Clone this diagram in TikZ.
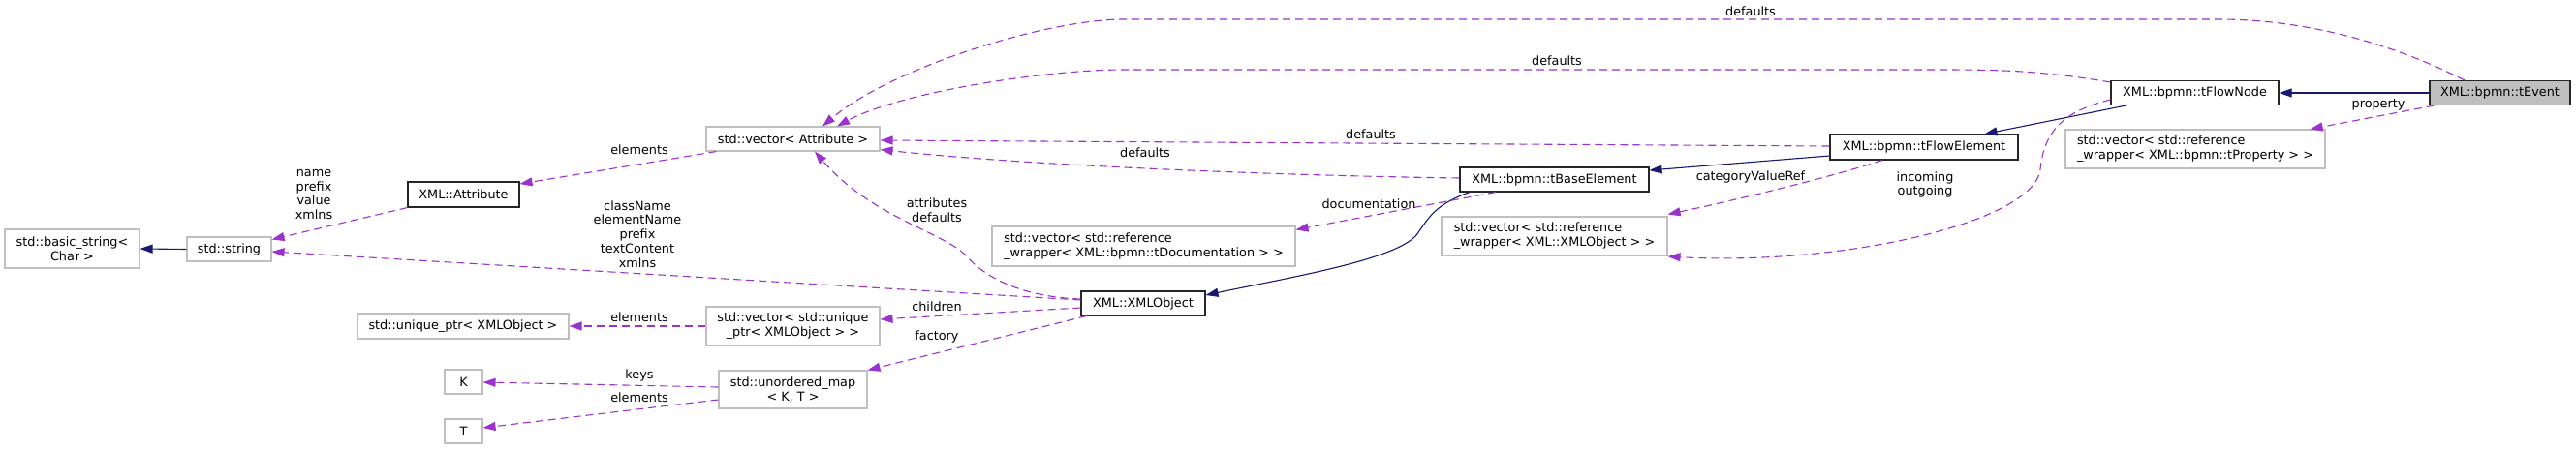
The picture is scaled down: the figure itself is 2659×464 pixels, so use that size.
\documentclass[tikz,border=0pt]{standalone}
\usepackage{fontspec}
\setmainfont{DejaVu Sans}
\usepackage{tikz}
\usetikzlibrary{arrows.meta,calc}
\definecolor{dxinh}{HTML}{191970}
\definecolor{dxuse}{HTML}{9A32CD}
\definecolor{dxgrey}{HTML}{BFBFBF}
\definecolor{dxink}{HTML}{000000}
\newcommand{\dxfont}{\fontsize{12.8}{14.8}\selectfont}
\tikzset{
  cls/.style={draw=black!85,line width=1.1pt,fill=white,inner sep=0pt,
              minimum height=25pt,font=\dxfont,text=dxink},
  ext/.style={draw=dxgrey,line width=1.1pt,fill=white,inner sep=0pt,
              minimum height=25pt,font=\dxfont,text=dxink,align=center},
  root/.style={cls,fill=dxgrey},
  inh/.style={-{Triangle[length=13pt,width=9pt]},line width=1.1pt,draw=dxinh},
  usage/.style={-{Triangle[length=13pt,width=9pt]},line width=1.1pt,draw=dxuse,
              dash pattern=on 8pt off 5pt},
  elab/.style={font=\dxfont,inner sep=0pt,align=center,text=dxink},
}

\begin{document}
\begin{tikzpicture}[x=1pt,y=-1pt]
  \useasboundingbox (0,0) rectangle (2659,464);

  % ---- classes ----
  \node[root,minimum width=145pt] (evt) at (2580.5,96) {XML::bpmn::tEvent};
  \node[cls,minimum width=173pt] (fnode) at (2265.5,96) {XML::bpmn::tFlowNode};
  \node[cls,minimum width=194pt,minimum height=26pt] (felem) at (1986,152) {XML::bpmn::tFlowElement};
  \node[cls,minimum width=195pt] (belem) at (1604.5,185.5) {XML::bpmn::tBaseElement};
  \node[cls,minimum width=128pt] (xobj) at (1180,313.5) {XML::XMLObject};
  \node[cls,minimum width=115pt,minimum height=26pt] (attr) at (478.5,201) {XML::Attribute};

  % ---- external types ----
  \node[ext,minimum width=139pt,minimum height=40pt] (bstr) at (74.5,257) {std::basic\_string<\\Char >};
  \node[ext,minimum width=87pt] (str) at (236.5,257.5) {std::string};
  \node[ext,minimum width=179pt] (vattr) at (818.5,143.5) {std::vector< Attribute >};
  \node[ext,minimum width=218pt,minimum height=26pt] (uptr) at (478,337) {std::unique\_ptr< XMLObject >};
  \node[ext,minimum width=179pt,minimum height=40pt] (vuptr) at (818.5,337) {std::vector< std::unique\\\_ptr< XMLObject > >};
  \node[ext,minimum width=153pt,minimum height=39pt] (umap) at (818.5,402.5) {std::unordered\_map\\< K, T >};
  \node[ext,minimum width=39pt] (kk) at (478.5,394.5) {K};
  \node[ext,minimum width=39pt] (tt) at (478.5,445.5) {T};
  \node[ext,align=left,minimum width=313pt,minimum height=41pt] (tdoc) at (1180.5,254.5) {std::vector< std::reference\\\_wrapper< XML::bpmn::tDocumentation > >};
  \node[ext,align=left,minimum width=233pt,minimum height=40pt] (vxref) at (1604.5,244) {std::vector< std::reference\\\_wrapper< XML::XMLObject > >};
  \node[ext,align=left,minimum width=268pt,minimum height=40pt] (vprop) at (2266,154) {std::vector< std::reference\\\_wrapper< XML::bpmn::tProperty > >};

  % ---- inheritance ----
  \draw[inh] (str.west) -- (bstr.east);
  \draw[inh] (evt.west) -- (fnode.east);
  \draw[inh] ([xshift=16pt]fnode.south west) -- ([xshift=-35pt]felem.north east);
  \draw[inh] ([yshift=-9pt]felem.west) -- ([yshift=9.5pt]belem.east);
  \draw[inh] ([xshift=10.5pt]belem.south west) .. controls (1480,212) and (1475,225) .. (1462,243)
    .. controls (1440,268) and (1340,285) .. ([yshift=8.5pt]xobj.east);

  % ---- usage ----
  \draw[usage] ([xshift=-36.5pt]evt.north) .. controls (2470,45) and (2380,20) .. (2290,20) -- (1160,20)
    .. controls (1080,20) and (920,70) .. ([xshift=30.5pt]vattr.north);
  \draw[usage] ([yshift=-2pt]fnode.north west) .. controls (2100,72) and (2060,72) .. (1990,72) -- (1160,72)
    .. controls (1080,72) and (930,95) .. ([xshift=45.5pt]vattr.north);
  \draw[usage] ([yshift=1pt]felem.west) -- ([yshift=-1.5pt]vattr.east);
  \draw[usage] ([yshift=1.5pt]belem.west) .. controls (1300,181) and (1050,170) .. ([yshift=2pt]vattr.south east);
  \draw[usage] ([xshift=5pt]evt.south west) -- ([xshift=-16pt]vprop.north east);
  \draw[usage] ([xshift=-43pt]felem.south) .. controls (1900,180) and (1800,205) .. ([yshift=2pt]vxref.north east);
  \draw[usage] ([yshift=-7pt]fnode.west) .. controls (2130,115) and (2110,135) .. (2106,175)
    .. controls (2100,230) and (1900,275) .. ([yshift=-21pt]vxref.east);
  \draw[usage] ([xshift=37.5pt]belem.south west) -- ([yshift=-4pt]tdoc.north east);
  \draw[usage] ([yshift=4.5pt]xobj.west) .. controls (1060,307) and (1020,290) .. (998,265)
    .. controls (975,240) and (900,225) .. ([xshift=22.5pt]vattr.south);
  \draw[usage] ([yshift=3.5pt]xobj.west) -- ([yshift=-2.5pt]str.east);
  \draw[usage] ([yshift=-4.5pt]xobj.west) -- ([yshift=7pt]vuptr.east);
  \draw[usage] ([xshift=6pt]xobj.south west) -- (umap.north east);
  \draw[usage] ([xshift=11pt]vattr.south west) -- ([yshift=11pt]attr.east);
  \draw[usage] (attr.south west) -- ([yshift=10pt]str.east);
  \draw[usage] (vuptr.west) -- (uptr.east);
  \draw[usage] ([yshift=2.5pt]umap.west) -- ([yshift=-0.5pt]kk.east);
  \draw[usage] ([yshift=-10.5pt]umap.west) -- ([yshift=3.5pt]tt.east);

  % ---- edge labels ----
  \node[elab] (l-d1) at (1807,12) {defaults};
  \node[elab] (l-d2) at (1607,63) {defaults};
  \node[elab] (l-d3) at (1415,139) {defaults};
  \node[elab] (l-d4) at (1182,158) {defaults};
  \node[elab] (l-pr) at (2455,108) {property};
  \node[elab] (l-cat) at (1807,183) {categoryValueRef};
  \node[elab] (l-io) at (1987,191) {incoming\\outgoing};
  \node[elab] (l-doc) at (1413,211) {documentation};
  \node[elab] (l-ad) at (967,217) {attributes\\defaults};
  \node[elab] (l-ch) at (967,317) {children};
  \node[elab] (l-fa) at (967,348) {factory};
  \node[elab] (l-ae) at (660,155) {elements};
  \node[elab] (l-xs) at (658,242) {className\\elementName\\prefix\\textContent\\xmlns};
  \node[elab] (l-ue) at (660,328) {elements};
  \node[elab] (l-k) at (660,388) {keys};
  \node[elab] (l-te) at (660,411) {elements};
  \node[elab] (l-bs) at (324,201) {name\\prefix\\value\\xmlns};
\end{tikzpicture}
\end{document}
